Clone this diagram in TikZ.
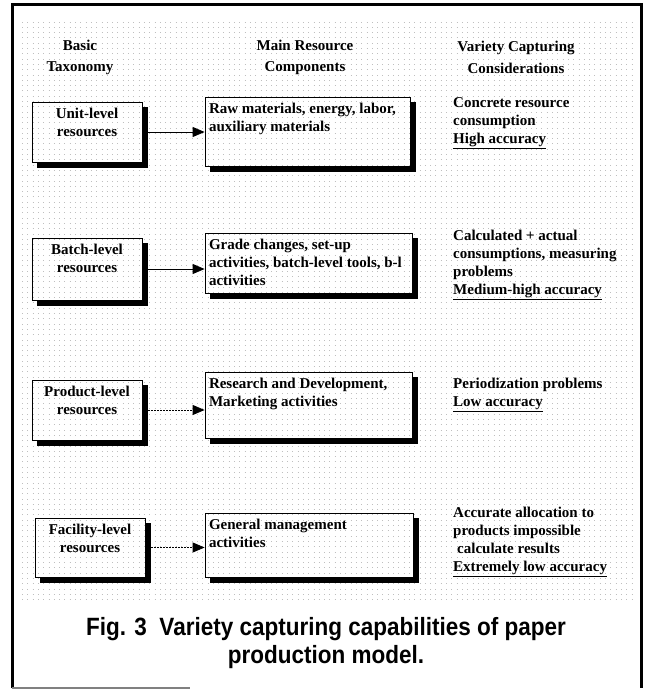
\documentclass[tikz,border=0pt]{standalone}
\usepackage{fontspec}
\setmainfont{Liberation Serif}
\newfontfamily\capfont[FakeStretch=0.9]{Liberation Sans}
\usetikzlibrary{arrows.meta,calc}
\newcommand\bodyfont{\bfseries\fontsize{15}{18}\selectfont}
\newcommand\shadowof[1]{%
  \fill ([shift={(0,5)}]#1.north east) rectangle ([shift={(6,6)}]#1.south east);
  \fill ([shift={(5,0)}]#1.south west) rectangle ([shift={(6,6)}]#1.south east);}
\tikzset{
  resbox/.style={draw, line width=0.8pt, inner xsep=4pt, inner ysep=6pt, font=\bodyfont},
  hdr/.style={align=center, inner sep=0pt, font=\bfseries\fontsize{15}{21.5}\selectfont},
  note/.style={align=left, anchor=north west, inner sep=0pt, font=\bodyfont},
  link/.style={line width=0.8pt, -{Triangle[length=12pt,width=10pt]}},
  dlink/.style={link, dash pattern=on 2pt off 1pt},
  griddots/.style={gray!50, line width=0.9pt, dash pattern=on 0.9pt off 4.4pt},
}
\begin{document}
\begin{tikzpicture}[x=1pt, y=-1pt]
\useasboundingbox (0,0) rectangle (650,690);
% dotted background grid
\foreach \yy in {22,27.3,...,602} \draw[griddots] (22,\yy) -- (632,\yy);
% frame
\draw[line width=3pt] (12,688) -- (12,5) -- (641,5) -- (641,688);
\draw[gray, line width=1.2pt] (12,688) -- (190,688);
% headers
\node[hdr] (h1) at (80,57.5) {Basic\\Taxonomy};
\node[hdr] (h2) at (305,57.5) {Main Resource\\Components};
\node[hdr] (h3) at (516,57.5) {Variety Capturing\\Considerations};
% row 1
\node[resbox] (u1) at (87,132) {\parbox[c][48pt][t]{102pt}{\centering Unit-level\\resources}};
\node[resbox] (u2) at (307.5,131.5) {\parbox[c][57pt][t]{197pt}{Raw materials, energy, labor,\\auxiliary materials}};
\shadowof{u1}\shadowof{u2}
\draw[link] (u1.east) -- (u1.east -| u2.west);
\node[note] (u3) at (453,97) {Concrete resource\\consumption\\\underline{High accuracy}};
% row 2
\node[resbox] (b1) at (87,269) {\parbox[c][50pt][t]{102pt}{\centering Batch-level\\resources}};
\node[resbox] (b2) at (308.5,263) {\parbox[c][48pt][t]{199pt}{Grade changes, set-up\\activities, batch-level tools, b-l\\activities}};
\shadowof{b1}\shadowof{b2}
\draw[link] (b1.east) -- (b1.east -| b2.west);
\node[note] (b3) at (453,230) {Calculated + actual\\consumptions, measuring\\problems\\\underline{Medium-high accuracy}};
% row 3
\node[resbox] (p1) at (87,410) {\parbox[c][48pt][t]{102pt}{\centering Product-level\\resources}};
\node[resbox] (p2) at (308.5,405) {\parbox[c][54pt][t]{199pt}{Research and Development,\\Marketing activities}};
\shadowof{p1}\shadowof{p2}
\draw[dlink] (p1.east) -- (p1.east -| p2.west);
\node[note] (p3) at (453,378) {Periodization problems\\\underline{Low accuracy}};
% row 4
\node[resbox] (f1) at (90,547.5) {\parbox[c][47pt][t]{102pt}{\centering Facility-level\\resources}};
\node[resbox] (f2) at (309,545) {\parbox[c][52pt][t]{200pt}{General management\\activities}};
\shadowof{f1}\shadowof{f2}
\draw[dlink] (f1.east) -- (f1.east -| f2.west);
\node[note] (f3) at (453,507) {Accurate allocation to\\products impossible\\\hspace{4pt}calculate results\\\underline{Extremely low accuracy}};
% caption
\node[align=center, inner sep=0pt, font=\capfont\bfseries\fontsize{25}{28.5}\selectfont] (cap) at (326,643)
  {Fig. 3\ \ Variety capturing capabilities of paper\\production model.};
\end{tikzpicture}
\end{document}
